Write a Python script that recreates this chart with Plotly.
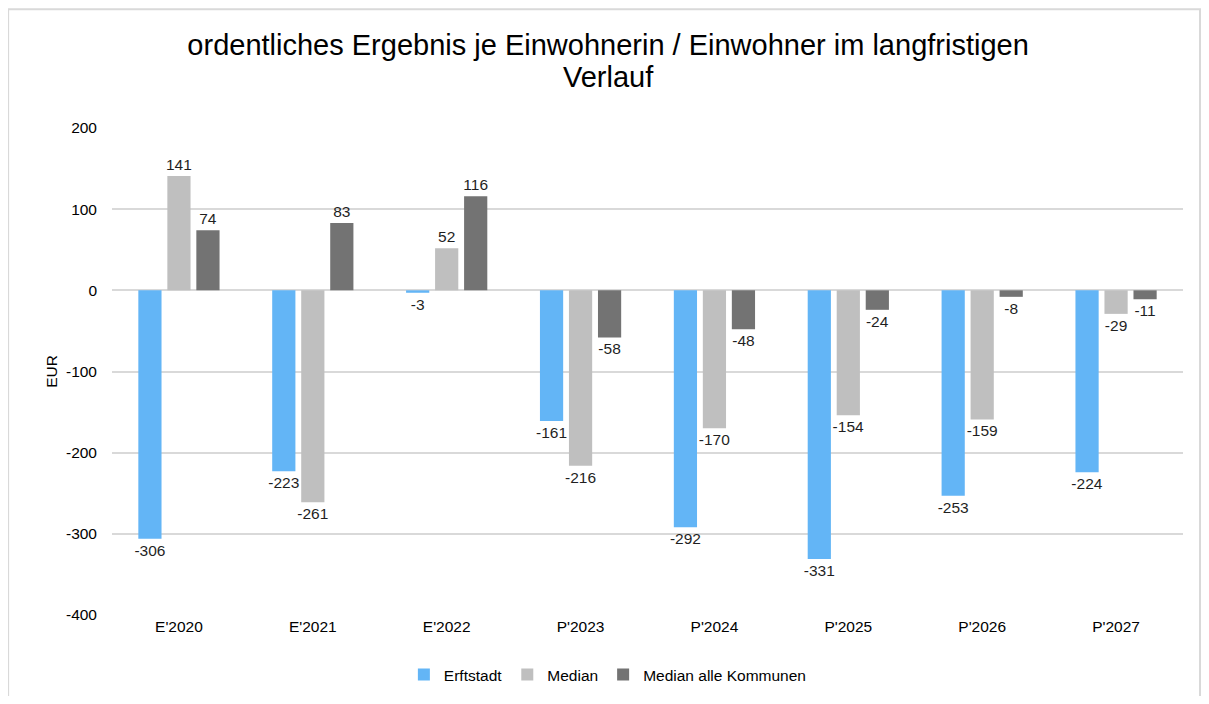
import plotly.graph_objects as go

categories = ["E'2020", "E'2021", "E'2022", "P'2023", "P'2024", "P'2025", "P'2026", "P'2027"]
erftstadt = [-306, -223, -3, -161, -292, -331, -253, -224]
median = [141, -261, 52, -216, -170, -154, -159, -29]
median_alle = [74, 83, 116, -58, -48, -24, -8, -11]
y_ticks = [-400, -300, -200, -100, 0, 100, 200]
y_tick_labels = ["-400", "-300", "-200", "-100", "0", "100", "200"]

series = [
    ("Erftstadt", erftstadt, "#63B5F6"),
    ("Median", median, "#BFBFBF"),
    ("Median alle Kommunen", median_alle, "#737373"),
]

FS = 15.5

fig = go.Figure()
for name, values, color in series:
    fig.add_trace(go.Bar(
        x=categories, y=values, name=name,
        marker=dict(color=color, line=dict(width=0)),
        text=[str(v) for v in values],
        textposition="outside",
        constraintext="none",
        textfont=dict(size=FS, color="#1f1f1f"),
        cliponaxis=False,
    ))

# page body has an 8px margin, so the figure is sized to fit inside it
fig.update_layout(
    width=1193, height=688,
    font=dict(family="Liberation Sans, Arial, sans-serif", color="#262626"),
    title=dict(
        text="ordentliches Ergebnis je Einwohnerin / Einwohner im langfristigen",
        x=0.503, xref="container", xanchor="center",
        y=0.946, yref="container", yanchor="middle",
        font=dict(size=29, color="#000000"),
    ),
    barmode="group", bargap=0.35, bargroupgap=0.2,
    plot_bgcolor="white", paper_bgcolor="white",
    margin=dict(l=104, r=18, t=120, b=81),
    showlegend=True,
    legend=dict(
        orientation="h", x=0.463, xanchor="center",
        y=0.0305, yref="container", yanchor="middle",
        font=dict(size=FS, color="#000000"), itemwidth=30, traceorder="normal",
    ),
)
# second title line
fig.add_annotation(
    text="Verlauf", xref="paper", yref="paper", x=0.464, y=1.1047,
    xanchor="center", yanchor="middle", showarrow=False,
    font=dict(size=29, color="#000000"),
)
fig.update_yaxes(
    range=[-400, 200], tickvals=y_ticks, ticktext=y_tick_labels,
    showgrid=True, gridcolor="#D9D9D9", gridwidth=1.5,
    zeroline=True, zerolinecolor="#D9D9D9", zerolinewidth=1.5,
    tickfont=dict(size=FS, color="#000000"), ticks="", ticklabelstandoff=14,
    title=dict(text="EUR", font=dict(size=FS, color="#000000"), standoff=4),
)
fig.update_xaxes(
    showgrid=False, showline=False, ticks="",
    tickfont=dict(size=FS, color="#000000"),
)
fig.add_shape(
    type="rect", xref="paper", yref="paper",
    x0=-0.097, x1=1.0159, y0=-0.4, y1=1.244,
    line=dict(color="#D9D9D9", width=2), fillcolor="rgba(0,0,0,0)", layer="below",
)

fig.write_html("out.html")
